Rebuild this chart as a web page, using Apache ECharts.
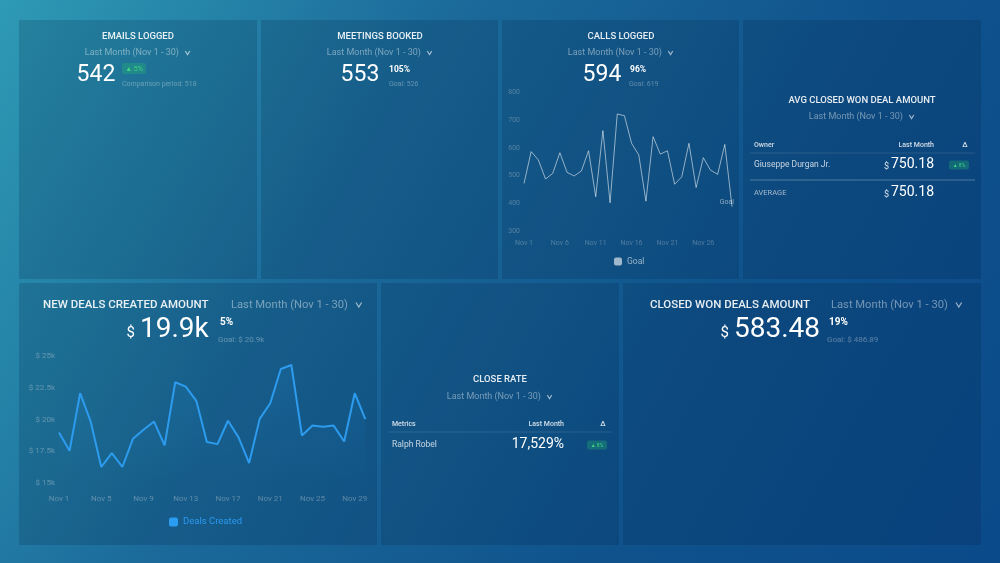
<!DOCTYPE html>
<html><head><meta charset="utf-8">
<script src="https://cdn.jsdelivr.net/npm/echarts@6/dist/echarts.min.js"></script>
<style>html,body{margin:0;padding:0;background:#1a6a9c;}#c{width:1000px;height:563px;}</style>
</head><body><div id="c"></div>
<script>
const days = ['Nov 1','Nov 2','Nov 3','Nov 4','Nov 5','Nov 6','Nov 7','Nov 8','Nov 9','Nov 10','Nov 11','Nov 12','Nov 13','Nov 14','Nov 15','Nov 16','Nov 17','Nov 18','Nov 19','Nov 20','Nov 21','Nov 22','Nov 23','Nov 24','Nov 25','Nov 26','Nov 27','Nov 28','Nov 29','Nov 30'];
const callsValues = [472,587,557,488,508,583,512,499,517,590,424,663,402,723,717,617,575,408,641,578,590,469,496,617,457,565,520,505,613,388];
const dealsValues = [18980,17540,22070,19840,16260,17360,16260,18480,19190,19840,17960,22930,22590,21470,18220,18060,19900,18590,16570,20050,21280,23980,24290,18740,19530,19420,19530,18270,22070,20030];
const callsTicks = [300,400,500,600,700,800];
const dealsTicks = [15000,17500,20000,22500,25000];

const FONT = 'Roboto, "Noto Sans", sans-serif';
const W = 'rgba(255,255,255,0.9)';
const DIM = 'rgba(255,255,255,0.42)';
const FAINT = 'rgba(255,255,255,0.32)';
const DY = 1.8;
const G = [];
function txt(t, x, y, size, fill, align, weight){
  G.push({type:'text', z:10, style:{text:t, x:x, y:y+DY, fill:fill, font:(weight||'normal')+' '+size+'px '+FONT, textAlign:align||'left', textVerticalAlign:'middle'}});
}
function chevron(x, y, s, color){
  y += DY;
  G.push({type:'polyline', z:10, shape:{points:[[x,y-s/2+0.5],[x+s/2,y+s/2-0.5],[x+s,y-s/2+0.5]]}, style:{stroke:color, lineWidth:1.2, fill:null}});
}
function period(cx, y, size, align){
  const t = 'Last Month (Nov 1 - 30)';
  const w = size*0.47*t.length;
  let x0 = align==='left' ? cx : cx - (w+size)/2;
  txt(t, x0, y, size, DIM, 'left');
  chevron(x0 + w + size*0.35, y, size*0.5, 'rgba(255,255,255,0.6)');
}
function badge(x, y, w, h, label){
  G.push({type:'rect', z:9, shape:{x:x, y:y-h/2, width:w, height:h, r:2}, style:{fill:'rgba(40,190,110,0.3)'}});
  G.push({type:'text', z:10, style:{text:label, x:x+w/2, y:y+0.5, fill:'#3fd483', font:(h-4)+'px '+FONT, textAlign:'center', textVerticalAlign:'middle'}});
}
function hline(x1, x2, y, c, lw){
  G.push({type:'line', z:9, shape:{x1:x1, y1:y, x2:x2, y2:y}, style:{stroke:c, lineWidth:lw||1}});
}

// background
G.push({type:'rect', z:0, shape:{x:0,y:0,width:1000,height:563}, style:{fill:new echarts.graphic.LinearGradient(0,0,1,1,[{offset:0,color:'#2e9ab5'},{offset:0.35,color:'#1b6a9a'},{offset:0.7,color:'#0f528c'},{offset:1,color:'#0b4a8a'}])}});
// panels
const panels = [[19,20,238,259],[261,20,237,259],[502,20,237,259],[743,20,238,259],[19,283,358,262],[381,283,238,262],[623,283,358,262]];
panels.forEach(p=>G.push({type:'rect', z:1, shape:{x:p[0],y:p[1],width:p[2],height:p[3]}, style:{fill:'rgba(0,25,60,0.18)'}}));

// Panel 1: Emails logged
txt('EMAILS LOGGED', 138, 35, 9.5, W, 'center', '500');
period(138, 51, 9);
txt('542', 96, 73, 23, '#ffffff', 'center');
badge(122, 68.5, 24, 11, '▲ 5%');
txt('Comparison period: 518', 122, 82, 7, FAINT, 'left');

// Panel 2: Meetings booked
txt('MEETINGS BOOKED', 380, 35, 9.5, W, 'center', '500');
period(380, 51, 9);
txt('553', 360, 73, 23, '#ffffff', 'center');
txt('105%', 389, 68, 8.5, '#ffffff', 'left', 'bold');
txt('Goal: 526', 389, 82, 7, FAINT, 'left');

// Panel 3: Calls logged
txt('CALLS LOGGED', 621, 35, 9.5, W, 'center', '500');
period(621, 51, 9);
txt('594', 602, 73, 23, '#ffffff', 'center');
txt('96%', 630, 68, 8.5, '#ffffff', 'left', 'bold');
txt('Goal: 619', 629, 82, 7, FAINT, 'left');

// Panel 4: Avg closed won deal amount
txt('AVG CLOSED WON DEAL AMOUNT', 862, 99, 9.5, W, 'center', '500');
period(862, 115, 9);
txt('Owner', 754, 143, 7, 'rgba(255,255,255,0.8)', 'left', '500');
txt('Last Month', 934, 143, 7, 'rgba(255,255,255,0.8)', 'right', '500');
txt('Δ', 965, 143, 7.5, 'rgba(255,255,255,0.8)', 'center', '500');
hline(750, 975, 153, 'rgba(255,255,255,0.12)');
txt('Giuseppe Durgan Jr.', 754, 163, 8.5, 'rgba(255,255,255,0.75)', 'left');
txt('750.18', 934, 163, 14, '#ffffff', 'right');
txt('$', 889, 165, 9, 'rgba(255,255,255,0.85)', 'right');
badge(949, 165, 20, 9, '▲ 8%');
hline(750, 975, 180, 'rgba(255,255,255,0.28)');
txt('AVERAGE', 754, 191, 7.5, 'rgba(255,255,255,0.6)', 'left');
txt('750.18', 934, 191, 14, '#ffffff', 'right');
txt('$', 889, 193, 9, 'rgba(255,255,255,0.85)', 'right');

// Panel 5: New deals created amount
txt('NEW DEALS CREATED AMOUNT', 43, 303, 11.5, W, 'left', '500');
period(231, 303, 11.2, 'left');
txt('$', 135, 331, 15, '#ffffff', 'right');
txt('19.9k', 140, 328, 28, '#ffffff', 'left');
txt('5%', 220, 321, 10, '#ffffff', 'left', 'bold');
txt('Goal: $ 20.9k', 218, 338, 8, FAINT, 'left');

// Panel 6: Close rate
txt('CLOSE RATE', 500, 378, 9.5, W, 'center', '500');
period(500, 395, 9);
txt('Metrics', 392, 422, 7, 'rgba(255,255,255,0.8)', 'left', '500');
txt('Last Month', 564, 422, 7, 'rgba(255,255,255,0.8)', 'right', '500');
txt('Δ', 603, 422, 7.5, 'rgba(255,255,255,0.8)', 'center', '500');
hline(388, 612, 432, 'rgba(255,255,255,0.12)');
txt('Ralph Robel', 392, 443, 8.5, 'rgba(255,255,255,0.75)', 'left');
txt('17,529%', 564, 443, 14, '#ffffff', 'right');
badge(587, 445, 20, 9, '▲ 8%');

// Panel 7: Closed won deals amount
txt('CLOSED WON DEALS AMOUNT', 650, 303, 11.5, W, 'left', '500');
period(831, 303, 11.2, 'left');
txt('$', 729, 331, 15, '#ffffff', 'right');
txt('583.48', 734, 328, 28, '#ffffff', 'left');
txt('19%', 829, 321, 10, '#ffffff', 'left', 'bold');
txt('Goal: $ 486.89', 827, 338, 8, FAINT, 'left');

const chart = echarts.init(document.getElementById('c'), null, {renderer:'canvas'});
chart.setOption({
  animation:false,
  textStyle:{fontFamily:FONT},
  graphic:{elements:G},
  grid:[
    {left:524, right:268, top:92.7, bottom:332, containLabel:false},
    {left:59, right:634.7, top:356, bottom:80, containLabel:false}
  ],
  xAxis:[
    {type:'category', gridIndex:0, data:days, boundaryGap:false, axisLine:{show:false}, axisTick:{show:false},
     axisLabel:{interval:4, color:FAINT, fontSize:7, margin:9}},
    {type:'category', gridIndex:1, data:days, boundaryGap:false, axisLine:{show:false}, axisTick:{show:false},
     axisLabel:{interval:3, color:'rgba(255,255,255,0.38)', fontSize:8, margin:12}}
  ],
  yAxis:[
    {type:'value', gridIndex:0, min:callsTicks[0], max:callsTicks[callsTicks.length-1], interval:100,
     splitLine:{show:false}, axisLine:{show:false}, axisTick:{show:false},
     axisLabel:{color:FAINT, fontSize:7, margin:4}},
    {type:'value', gridIndex:1, min:dealsTicks[0], max:dealsTicks[dealsTicks.length-1], interval:2500,
     splitLine:{show:false}, axisLine:{show:false}, axisTick:{show:false},
     axisLabel:{color:'rgba(255,255,255,0.38)', fontSize:8, margin:4, formatter:v=>'$ '+(v/1000)+'k'}}
  ],
  legend:[
    {data:['Goal'], left:609, top:252, itemWidth:8, itemHeight:8, itemGap:4, icon:'roundRect',
     textStyle:{color:'rgba(255,255,255,0.55)', fontSize:8.5, fontFamily:FONT}},
    {data:['Deals Created'], left:164, top:512, itemWidth:9, itemHeight:9, itemGap:4, icon:'roundRect',
     textStyle:{color:'#2b9af0', fontSize:9.5, fontFamily:FONT}}
  ],
  series:[
    {name:'Goal', type:'line', xAxisIndex:0, yAxisIndex:0, data:callsValues, showSymbol:false, symbol:'none',
     color:'rgba(255,255,255,0.6)', lineStyle:{width:1, color:'rgba(255,255,255,0.55)'},
     endLabel:{show:true, formatter:'Goal', color:'rgba(255,255,255,0.5)', fontSize:7, align:'right', offset:[-6,-4]}},
    {name:'Deals Created', type:'line', xAxisIndex:1, yAxisIndex:1, data:dealsValues, showSymbol:false, symbol:'none',
     color:'#2a9cf2', lineStyle:{width:2, color:'#2d9bee'},
     areaStyle:{color:new echarts.graphic.LinearGradient(0,0,0,1,[{offset:0,color:'rgba(42,156,242,0.16)'},{offset:1,color:'rgba(42,156,242,0)'}])}}
  ]
});
</script></body></html>
